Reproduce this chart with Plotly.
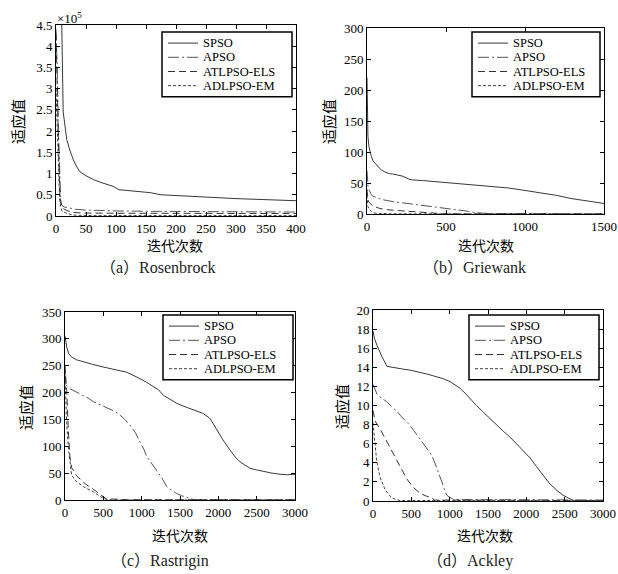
import plotly.graph_objects as go

# ---------------- data ----------------
series_names = ["SPSO", "APSO", "ATLPSO-ELS", "ADLPSO-EM"]
captions = ["（a）Rosenbrock", "（b）Griewank", "（c）Rastrigin", "（d）Ackley"]
x_title = "迭代次数"
y_title = "适应值"

# (a) Rosenbrock, fitness in units of 1e5
ros_spso_x = [0, 5, 9.5, 12, 15, 18, 23, 29, 35, 40, 50, 62, 75, 84, 95, 105, 130, 157, 175, 200, 240, 270, 300, 340, 370, 400]
ros_spso_y = [9.0, 6.5, 4.6, 2.45, 2.1, 1.8, 1.55, 1.32, 1.15, 1.04, 0.95, 0.86, 0.79, 0.75, 0.70, 0.62, 0.58, 0.55, 0.50, 0.48, 0.455, 0.43, 0.41, 0.39, 0.37, 0.36]
ros_apso_x = [0, 2, 4, 6, 8, 10, 14, 20, 30, 32, 50, 73, 100, 157, 200, 268, 330, 400]
ros_apso_y = [4.4, 3.5, 2.0, 0.8, 0.35, 0.25, 0.21, 0.2, 0.17, 0.157, 0.14, 0.126, 0.12, 0.11, 0.105, 0.10, 0.097, 0.094]
ros_atl_x = [0, 2, 4, 6, 8, 10, 15, 20, 30, 50, 100, 200, 300, 400]
ros_atl_y = [4.3, 3.0, 1.5, 0.6, 0.3, 0.2, 0.15, 0.12, 0.08, 0.07, 0.065, 0.06, 0.06, 0.058]
ros_adl_x = [0, 2, 4, 6, 8, 10, 15, 20, 25, 30, 40, 60, 100, 200, 300, 400]
ros_adl_y = [3.0, 2.0, 0.9, 0.4, 0.2, 0.12, 0.08, 0.05, 0.03, 0.02, 0.015, 0.01, 0.01, 0.01, 0.01, 0.01]

# (b) Griewank
gri_spso_x = [0, 3, 6, 12, 17, 27, 40, 58, 79, 90, 120, 142, 163, 200, 226, 267, 288, 350, 476, 550, 685, 800, 894, 1000, 1103, 1200, 1291, 1400, 1500]
gri_spso_y = [220, 160, 125, 109, 104, 93, 85, 80, 73, 71, 67, 65, 64.5, 62, 61, 56, 55, 54, 51, 49, 47, 44, 42, 38, 34, 30, 25, 21, 17]
gri_apso_x = [0, 6, 15, 27, 38, 70, 100, 163, 226, 300, 372, 450, 539, 600, 643, 680, 706, 750, 850, 1000, 1020, 1100, 1500]
gri_apso_y = [70, 45, 38, 31, 28.5, 25, 23, 20, 18, 15.5, 13, 11, 8.6, 6.5, 4.3, 2.5, 1.6, 1.0, 0.8, 0.6, 0.3, 0.1, 0.05]
gri_atl_x = [0, 6, 15, 38, 80, 121, 200, 267, 372, 430, 476, 600, 1500]
gri_atl_y = [40, 23, 18, 13, 9, 7, 5.5, 4, 2.7, 1.5, 0.5, 0.2, 0.1]
gri_adl_x = [0, 6, 15, 27, 48, 80, 150, 300, 1500]
gri_adl_y = [30, 12, 7, 4.3, 1.6, 0.8, 0.4, 0.2, 0.1]

# (c) Rastrigin
ras_spso_x = [0, 22, 50, 87, 150, 239, 350, 457, 560, 674, 804, 900, 978, 1065, 1152, 1220, 1283, 1370, 1457, 1540, 1630, 1720, 1804, 1891, 1978, 2060, 2152, 2220, 2283, 2350, 2413, 2500, 2587, 2700, 2804, 2900, 3000]
ras_spso_y = [305, 285, 272, 266, 261, 257, 253, 249, 245, 242, 238, 232, 226, 219, 211, 205, 195, 187, 180, 175, 170, 166, 161, 152, 130, 112, 93, 80, 71, 64, 59, 56, 53, 50, 48, 47, 48]
ras_apso_x = [0, 10, 65, 196, 300, 370, 480, 587, 650, 717, 780, 848, 920, 978, 1030, 1065, 1130, 1196, 1260, 1326, 1400, 1457, 1520, 1587, 1640, 1674, 1750, 3000]
ras_apso_y = [240, 215, 207, 198, 190, 183, 176, 170, 165, 158, 150, 139, 125, 108, 94, 81, 68, 56, 42, 25, 17, 12, 8, 5, 2.5, 1, 0.5, 0.3]
ras_atl_x = [0, 22, 43, 65, 87, 152, 239, 283, 370, 457, 500, 543, 600, 700, 800, 3000]
ras_atl_y = [250, 204, 130, 80, 60, 45, 33, 28, 20, 10, 6, 2, 2, 1.5, 0.5, 0.3]
ras_adl_x = [0, 22, 43, 87, 152, 239, 370, 450, 500, 543, 600, 3000]
ras_adl_y = [230, 142, 99, 46, 34, 25, 15, 8, 3, 1, 0.2, 0.1]

# (d) Ackley
ack_spso_x = [0, 20, 52, 117, 182, 300, 400, 485, 615, 700, 789, 860, 919, 1006, 1070, 1136, 1200, 1266, 1350, 1439, 1530, 1612, 1700, 1786, 1870, 1960, 2050, 2133, 2220, 2306, 2400, 2480, 2550, 2610, 2700, 3000]
ack_spso_y = [17.8, 17.0, 16.3, 15.1, 14.1, 13.9, 13.8, 13.7, 13.5, 13.3, 13.1, 12.95, 12.8, 12.5, 12.2, 11.8, 11.3, 10.7, 10.0, 9.3, 8.6, 7.9, 7.3, 6.7, 6.0, 5.3, 4.5, 3.6, 2.7, 1.8, 1.1, 0.6, 0.3, 0.07, 0.05, 0.05]
ack_apso_x = [0, 20, 52, 91, 140, 178, 240, 309, 374, 461, 530, 591, 678, 765, 830, 870, 896, 930, 961, 1000, 1050, 3000]
ack_apso_y = [12.2, 11.8, 11.2, 10.9, 10.6, 10.4, 9.9, 9.4, 8.8, 8.1, 7.4, 6.7, 5.8, 4.8, 3.5, 2.6, 1.9, 1.1, 0.6, 0.4, 0.15, 0.1]
ack_atl_x = [0, 26, 95, 182, 269, 355, 442, 529, 615, 700, 760, 800, 3000]
ack_atl_y = [9.5, 8.4, 7.5, 6.2, 4.9, 3.5, 2.3, 1.4, 0.8, 0.5, 0.4, 0.1, 0.05]
ack_adl_x = [0, 10, 26, 48, 91, 157, 204, 243, 300, 355, 3000]
ack_adl_y = [8.2, 7.5, 6.0, 4.2, 2.5, 1.2, 0.7, 0.35, 0.15, 0.05, 0.03]

panel_data = [
    [(ros_spso_x, ros_spso_y), (ros_apso_x, ros_apso_y), (ros_atl_x, ros_atl_y), (ros_adl_x, ros_adl_y)],
    [(gri_spso_x, gri_spso_y), (gri_apso_x, gri_apso_y), (gri_atl_x, gri_atl_y), (gri_adl_x, gri_adl_y)],
    [(ras_spso_x, ras_spso_y), (ras_apso_x, ras_apso_y), (ras_atl_x, ras_atl_y), (ras_adl_x, ras_adl_y)],
    [(ack_spso_x, ack_spso_y), (ack_apso_x, ack_apso_y), (ack_atl_x, ack_atl_y), (ack_adl_x, ack_adl_y)],
]
x_ranges = [[0, 400], [0, 1500], [0, 3000], [0, 3000]]
y_ranges = [[0, 4.5], [0, 300], [0, 350], [0, 20]]
x_dticks = [50, 500, 500, 500]
y_dticks = [0.5, 50, 50, 2]

# ---------------- styling ----------------
W, H = 618, 574
# plot areas in pixels: (left, right, top, bottom)
boxes = [(56, 296, 25, 216), (367, 604, 28, 214), (65, 295, 312, 500), (373, 603, 310, 501)]
legend_boxes = [(162, 292, 32), (472, 600, 32), (163, 293, 315), (469, 599, 315)]
LEG_ROW = 14.2
LEG_H = 8 + 4 * LEG_ROW
xtitle_pos = [(175, 245), (486, 245), (180, 535), (485, 535)]
ytitle_pos = [(17, 122), (328, 122), (25, 408), (342, 407)]
caption_pos = [(158, 268), (474, 268), (160, 561), (470, 561)]

dashes = ["solid", "11px,3px,2px,3px", "7px,4px", "3px,2px"]
colors = ["#383838", "#555555", "#333333", "#404040"]
SERIF = "Liberation Serif, Noto Sans CJK SC, serif"
CJK = "Noto Sans CJK SC, sans-serif"

def px_x(p):
    return p / W

def px_y(p):
    return 1 - p / H

fig = go.Figure()
layout = dict(width=W, height=H, margin=dict(l=0, r=0, t=0, b=0),
              paper_bgcolor="white", plot_bgcolor="white", showlegend=False)
shapes = []
annotations = []

for i in range(4):
    sfx = "" if i == 0 else str(i + 1)
    l, r, t, b = boxes[i]
    axis_common = dict(showgrid=False, zeroline=False, showline=True, linecolor="black",
                       linewidth=1, mirror="allticks", ticks="inside", ticklen=4,
                       tickcolor="black", tickwidth=1, automargin=False,
                       ticklabeloverflow="allow",
                       tickfont=dict(family=SERIF, size=13, color="black"))
    layout["xaxis" + sfx] = dict(axis_common, domain=[px_x(l), px_x(r)], range=x_ranges[i],
                                 dtick=x_dticks[i], tick0=0, anchor="y" + sfx)
    layout["yaxis" + sfx] = dict(axis_common, domain=[px_y(b), px_y(t)], range=y_ranges[i],
                                 dtick=y_dticks[i], tick0=0, anchor="x" + sfx)
    for k, (xs, ys) in enumerate(panel_data[i]):
        fig.add_trace(go.Scatter(x=xs, y=ys, mode="lines", name=series_names[k],
                                 line=dict(color=colors[k], width=1, dash=dashes[k]),
                                 xaxis="x" + sfx, yaxis="y" + sfx, showlegend=False,
                                 hoverinfo="skip"))
    # legend box
    ll, lr, lt = legend_boxes[i]
    lb = lt + LEG_H
    shapes.append(dict(type="rect", xref="paper", yref="paper", x0=px_x(ll), x1=px_x(lr),
                       y0=px_y(lb), y1=px_y(lt), line=dict(color="black", width=1.5),
                       fillcolor="white", layer="above"))
    for k in range(4):
        yy = lt + 4 + LEG_ROW * (k + 0.5)
        shapes.append(dict(type="line", xref="paper", yref="paper", x0=px_x(ll + 6),
                           x1=px_x(ll + 36), y0=px_y(yy), y1=px_y(yy),
                           line=dict(color=colors[k], width=1, dash=dashes[k]), layer="above"))
        annotations.append(dict(xref="paper", yref="paper", x=px_x(ll + 40), y=px_y(yy),
                                text=series_names[k], showarrow=False, xanchor="left",
                                yanchor="middle", borderpad=0,
                                font=dict(family=SERIF, size=12.5, color="black")))
    # titles
    annotations.append(dict(xref="paper", yref="paper", x=px_x(xtitle_pos[i][0]), y=px_y(xtitle_pos[i][1]),
                            text=x_title, showarrow=False, xanchor="center", yanchor="middle",
                            borderpad=0, font=dict(family=CJK, size=14, color="black")))
    annotations.append(dict(xref="paper", yref="paper", x=px_x(ytitle_pos[i][0]), y=px_y(ytitle_pos[i][1]),
                            text=y_title, showarrow=False, xanchor="center", yanchor="middle",
                            textangle=-90, font=dict(family=CJK, size=15, color="black")))
    annotations.append(dict(xref="paper", yref="paper", x=px_x(caption_pos[i][0]), y=px_y(caption_pos[i][1]),
                            text=captions[i], showarrow=False, xanchor="center", yanchor="middle",
                            font=dict(family=SERIF, size=16, color="#222222")))

annotations.append(dict(xref="paper", yref="paper", x=px_x(55), y=px_y(18),
                        text="×10<sup>5</sup>", showarrow=False, xanchor="left", yanchor="middle",
                        font=dict(family=SERIF, size=13, color="black")))

layout["shapes"] = shapes
layout["annotations"] = annotations
fig.update_layout(**layout)
fig.write_html("out.html", config={"displayModeBar": False},
               post_script="document.body.style.margin='0';document.body.style.padding='0';")
